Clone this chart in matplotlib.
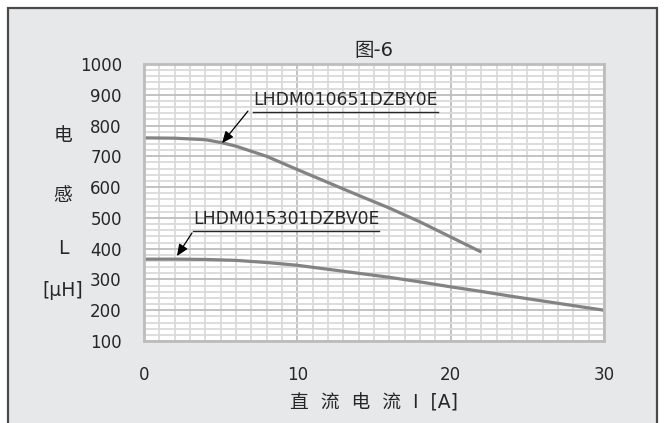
import matplotlib
matplotlib.use("Agg")
import matplotlib.pyplot as plt
from matplotlib.patches import Rectangle
from matplotlib.ticker import MultipleLocator

plt.rcParams['font.family'] = ['DejaVu Sans', 'Noto Sans CJK SC']

# Data
current_a = [0, 2, 4, 5, 6, 8, 10, 12, 14, 16, 18, 20, 22]
induct_a = [760, 759, 754, 745, 733, 700, 657, 615, 573, 532, 487, 438, 389]
current_b = [0, 2, 4, 6, 8, 10, 12, 14, 16, 18, 20, 22, 24, 26, 28, 30]
induct_b = [366, 366, 365, 362, 355, 346, 333, 320, 307, 292, 276, 261, 245, 230, 215, 200]
label_a = "LHDM010651DZBY0E"
label_b = "LHDM015301DZBV0E"
title = "图-6"
xlabel = "直  流  电  流  I  [A]"
ylabel_parts = ["电", "感", "L", "[μH]"]
xticks = [0, 10, 20, 30]
yticks = list(range(100, 1001, 100))

W, H = 664, 423
fig = plt.figure(figsize=(W / 100, H / 100), dpi=100)
fig.patch.set_facecolor('white')

# outer gray panel
fig.patches.append(Rectangle((8 / W, -0.05), (657 - 8) / W, (423 - 8) / H + 0.05,
                             transform=fig.transFigure, facecolor='#e7e8e9',
                             edgecolor='#4a4a4a', linewidth=1.6, zorder=-10))

ax = fig.add_axes([144 / W, 82 / H, 460 / W, 277 / H])
ax.set_zorder(1)
ax.set_facecolor('white')
ax.set_xlim(0, 30)
ax.set_ylim(100, 1000)
ax.set_xticks(xticks)
ax.set_yticks(yticks)
ax.xaxis.set_minor_locator(MultipleLocator(1))
ax.yaxis.set_minor_locator(MultipleLocator(20))
ax.grid(which='minor', color='#dadada', linewidth=1.3)
ax.grid(which='major', color='#bdbdbd', linewidth=1.3)
ax.set_axisbelow(True)
ax.tick_params(which='both', length=0)
ax.tick_params(axis='x', pad=18, labelsize=12, labelcolor='#262626')
ax.tick_params(axis='y', pad=16, labelsize=12, labelcolor='#262626')
for s in ax.spines.values():
    s.set_color('#bdbdbd')
    s.set_linewidth(2)

ax.plot(current_a, induct_a, color='#838383', linewidth=2.3, solid_capstyle='butt')
ax.plot(current_b, induct_b, color='#838383', linewidth=2.3, solid_capstyle='butt')

ax.set_title(title, fontsize=14, color='#262626', pad=6)
ax.set_xlabel(xlabel, fontsize=13.5, color='#262626', labelpad=7)

ylab_pos = [135, 195, 248, 290]
for txt, yp in zip(ylabel_parts, ylab_pos):
    fig.text(63 / W, 1 - yp / H, txt, ha='center', va='center', fontsize=13.5, color='#262626')

# annotations
t1 = ax.text(7.11, 883, label_a, ha='left', va='center', fontsize=12.4, color='#262626')
t2 = ax.text(3.2, 496, label_b, ha='left', va='center', fontsize=12.4, color='#262626')
ax.annotate('', xy=(5.09, 743), xytext=(6.78, 847),
            arrowprops=dict(arrowstyle='-|>,head_length=0.7,head_width=0.3', color='black',
                            lw=0.9, shrinkA=0, shrinkB=0))
ax.annotate('', xy=(2.15, 376), xytext=(3.13, 451),
            arrowprops=dict(arrowstyle='-|>,head_length=0.7,head_width=0.3', color='black',
                            lw=0.9, shrinkA=0, shrinkB=0))

fig.canvas.draw()
r = fig.canvas.get_renderer()
inv = ax.transData.inverted()
for t, uy in ((t1, 843), (t2, 457)):
    bb = t.get_window_extent(renderer=r)
    x0 = inv.transform((bb.x0, bb.y0))[0]
    x1 = inv.transform((bb.x1, bb.y0))[0]
    ax.plot([x0, x1], [uy, uy], color='#262626', linewidth=1.0, clip_on=False)

fig.savefig('out.png', dpi=100, facecolor=fig.get_facecolor())
